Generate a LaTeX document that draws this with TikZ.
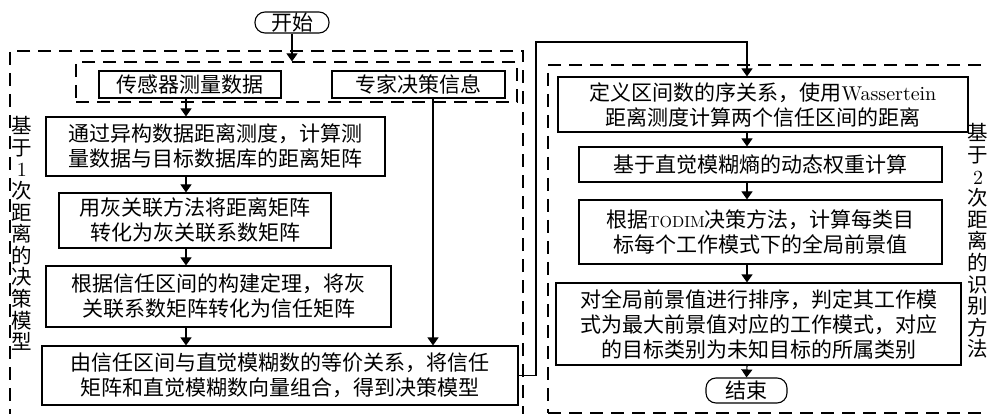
\documentclass[tikz,border=0pt]{standalone}
\usepackage{fontspec}
\newfontfamily\cjk{Noto Sans CJK SC}
\newfontfamily\lmr{lmroman10-regular.otf}
\newcommand{\lm}[2]{{\lmr\fontsize{#1}{25}\selectfont #2}}
\usetikzlibrary{arrows.meta}
\tikzset{
  box/.style={draw, line width=1.1pt, inner sep=0pt, align=center,
    font=\cjk\fontsize{21}{25}\selectfont},
  dbox/.style={draw, line width=1.1pt, dash pattern=on 13pt off 8pt, inner sep=0pt},
  term/.style={draw, line width=1.1pt, inner sep=0pt, rounded corners=10pt,
    font=\cjk\fontsize{21}{25}\selectfont},
  vtext/.style={inner sep=0pt, align=center, font=\cjk\fontsize{20.5}{21.6}\selectfont},
  arr/.style={line width=1.1pt, -{Triangle[width=11pt,length=8pt]}},
  ln/.style={line width=1.1pt}
}
\begin{document}
\begin{tikzpicture}[x=1pt,y=-1pt]
\useasboundingbox (0,0) rectangle (988,414);
\clip (0,0) rectangle (988,414);
% dashed groups
\node[dbox, minimum width=513pt, minimum height=380pt] (outerL) at (266.5,241) {};
\node[dbox, minimum width=441pt, minimum height=40pt] (innerL) at (296.5,82) {};
\node[dbox, minimum width=452pt, minimum height=348pt] (outerR) at (774,239) {};
% terminals
\node[term, minimum width=74pt, minimum height=21pt] (start) at (292,22.5) {开始};
\node[term, minimum width=81pt, minimum height=25pt] (end) at (746.5,390.5) {结束};
% left column
\node[box, minimum width=182pt, minimum height=27pt] (sensor) at (190,84.5) {传感器测量数据};
\node[box, minimum width=173pt, minimum height=27pt] (expert) at (418.5,84.5) {专家决策信息};
\node[box, minimum width=339pt, minimum height=59pt] (L1) at (215.5,146.5) {通过异构数据距离测度，计算测\\量数据与目标数据库的距离矩阵};
\node[box, minimum width=272pt, minimum height=55pt] (L2) at (195,220.5) {用灰关联方法将距离矩阵\\转化为灰关联系数矩阵};
\node[box, minimum width=345pt, minimum height=61pt] (L3) at (218.5,296.5) {根据信任区间的构建定理，将灰\\关联系数矩阵转化为信任矩阵};
\node[box, minimum width=476pt, minimum height=59pt] (L4) at (280,375.5) {由信任区间与直觉模糊数的等价关系，将信任\\矩阵和直觉模糊数向量组合，得到决策模型};
% right column
\node[box, minimum width=410pt, minimum height=55pt] (R1) at (763,104.5) {定义区间数的序关系，使用\lm{20}{Wassertein}\\距离测度计算两个信任区间的距离};
\node[box, minimum width=363pt, minimum height=35pt] (R2) at (760.5,164.5) {基于直觉模糊熵的动态权重计算};
\node[box, minimum width=363pt, minimum height=64pt] (R3) at (760.5,232) {根据\lm{16}{TODIM}决策方法，计算每类目\\标每个工作模式下的全局前景值};
\node[box, minimum width=405pt, minimum height=82pt] (R4) at (758.5,324) {对全局前景值进行排序，判定其工作模\\式为最大前景值对应的工作模式，对应\\的目标类别为未知目标的所属类别};
% vertical labels
\node[vtext] (vl) at (22,233.5) {基\\于\\\lm{20}{1}\\次\\距\\离\\的\\决\\策\\模\\型};
\node[vtext] (vr) at (978,241) {基\\于\\\lm{20}{2}\\次\\距\\离\\的\\识\\别\\方\\法};
% helper coordinates
\coordinate (lx) at (186,0);
\coordinate (ex) at (433,0);
\coordinate (rx) at (747,0);
\coordinate (bend) at (536,42);
% connectors
\draw[arr] (start.south) -- (start.south |- innerL.north);
\draw[arr] (sensor.south -| lx) -- (L1.north -| lx);
\draw[arr] (L1.south -| lx) -- (L2.north -| lx);
\draw[arr] (L2.south -| lx) -- (L3.north -| lx);
\draw[arr] (L3.south -| lx) -- (L4.north -| lx);
\draw[arr] (expert.south -| ex) -- (L4.north -| ex);
\draw[arr] (L4.east) -| (bend) -| (R1.north -| rx);
\draw[arr] (R1.south -| rx) -- (R2.north -| rx);
\draw[arr] (R2.south -| rx) -- (R3.north -| rx);
\draw[arr] (R3.south -| rx) -- (R4.north -| rx);
\draw[arr] (R4.south -| rx) -- (end.north);
\end{tikzpicture}
\end{document}
